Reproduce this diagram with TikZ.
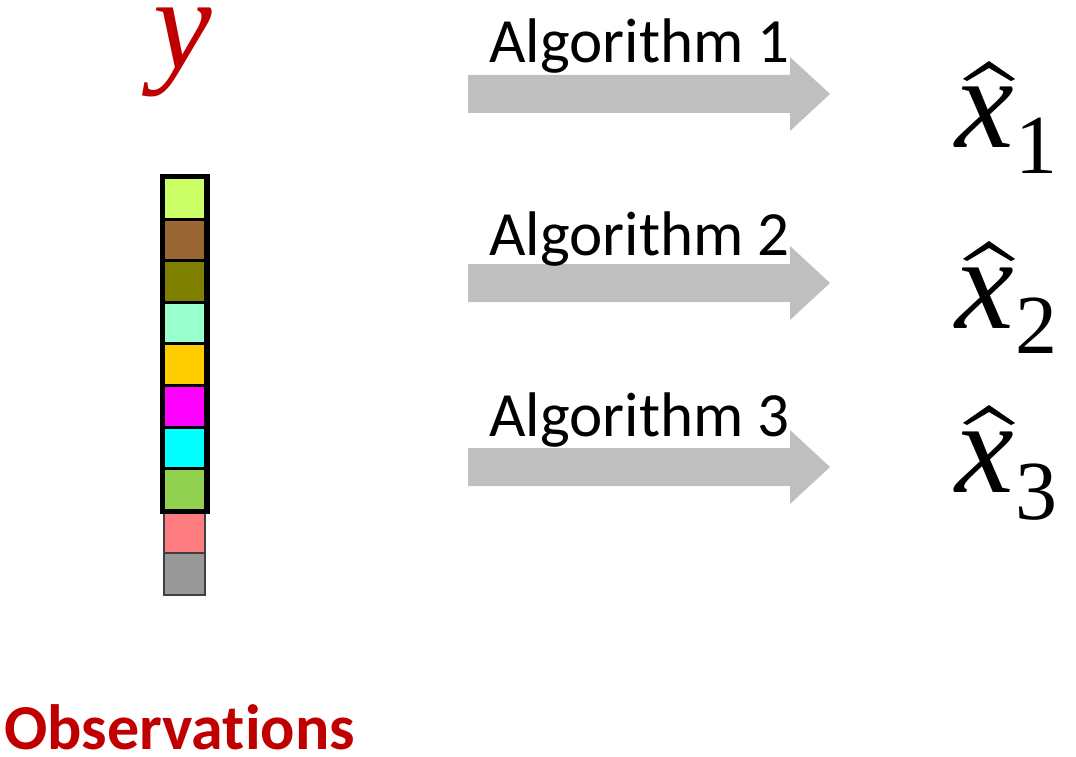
\documentclass[tikz,border=0pt]{standalone}
\usepackage{fontspec}
\setmainfont{Carlito}[Ligatures={NoCommon,NoContextual,NoRare}]
\newfontfamily\varserif{Liberation Serif}
\definecolor{obsred}{HTML}{C00000}
\definecolor{arrowgray}{HTML}{BFBFBF}
\definecolor{cA}{HTML}{CCFF66}
\definecolor{cB}{HTML}{996633}
\definecolor{cC}{HTML}{808000}
\definecolor{cD}{HTML}{99FFCC}
\definecolor{cE}{HTML}{FFCC00}
\definecolor{cF}{HTML}{FF00FF}
\definecolor{cG}{HTML}{00FFFF}
\definecolor{cH}{HTML}{92D050}
\definecolor{cI}{HTML}{FF7C80}
\definecolor{cJ}{HTML}{999999}
\begin{document}
\begin{tikzpicture}[x=1pt,y=-1pt,
  cellbox/.style={draw=black, line width=3pt, minimum width=42pt, minimum height=41.6pt, inner sep=0pt},
  loosecell/.style={draw=black!75, line width=2pt, minimum width=41pt, inner sep=0pt},
  algolabel/.style={anchor=base west, inner sep=0pt, font=\fontsize{63}{70}\selectfont},
  mathvar/.style={inner sep=0pt, font=\varserif\itshape\fontsize{132}{140}\selectfont},
  mathsub/.style={anchor=base west, inner sep=0pt, font=\varserif\fontsize{84}{90}\selectfont},
  hatmark/.style={fill=black},
  blockarrow/.style={fill=arrowgray}]
\useasboundingbox (0,0) rectangle (1076,757);

% observation vector
\node[loosecell, fill=cI, minimum height=41pt] (cell9) at (184.5,532.5) {};
\node[loosecell, fill=cJ, minimum height=42pt] (cell10) at (184.5,574) {};
\foreach \c [count=\i from 0] in {cA,cB,cC,cD,cE,cF,cG,cH}{
  \node[cellbox, fill=\c] (cell\i) at (184.5,{177.5+41.6*(\i+0.5)}) {};
}
\draw[line width=5pt] (cell0.north west) rectangle (cell7.south east);

\node[mathvar, anchor=base, text=obsred] (ylab) at (183,69) {y};
% the zero kern keeps "t" and "i" as separate glyphs
\node[anchor=base west, inner sep=0pt, text=obsred,
      font=\bfseries\fontsize{64}{70}\selectfont] (obs) at (4,749) {Observat\kern0pt ions};

% algorithms
\foreach \k/\yc/\yt in {1/94/63, 2/283/255, 3/467/436}{
  \fill[blockarrow] (468,\yc-19) -- (790,\yc-19) -- (790,\yc-37) -- (830,\yc)
     -- (790,\yc+37) -- (790,\yc+19) -- (468,\yc+19) -- cycle;
  \node[algolabel] (alg\k) at (489,\yt) {Algorithm \k};
}

% estimates
\foreach \k/\yb/\ys in {1/148/173, 2/328/353, 3/492/519}{
  \node[mathvar, anchor=base west] (xhat\k) at (955,\yb) {x};
  \node[mathsub] (sub\k) at (1015,\ys) {\k};
  \fill[hatmark] (963,\yb-69) -- (989,\yb-87) -- (1015,\yb-69) -- (1011,\yb-67)
     -- (989,\yb-80) -- (967,\yb-67) -- cycle;
}
\end{tikzpicture}
\end{document}
